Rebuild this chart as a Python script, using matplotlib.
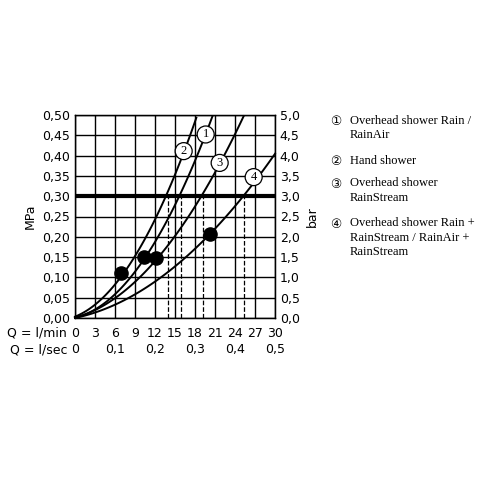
import numpy as np
import matplotlib.pyplot as plt

# read points (l/min, MPa) for each curve
q1 = [0, 10.3, 15.9, 20.6]; p1 = [0, 0.15, 0.30, 0.50]
q2 = [0, 6.9, 14.0, 18.2]; p2 = [0, 0.112, 0.30, 0.50]
q3 = [0, 12.1, 19.2, 25.3]; p3 = [0, 0.147, 0.30, 0.50]
q4 = [0, 20.2, 25.3, 30.0]; p4 = [0, 0.207, 0.30, 0.405]
dots_q = [6.9, 10.3, 12.1, 20.2]
dots_p = [0.112, 0.15, 0.147, 0.207]
cross_q = [14.0, 15.9, 19.2, 25.3]
labels = ["1", "2", "3", "4"]
label_q = [19.6, 16.3, 21.7, 26.8]
label_p = [0.452, 0.411, 0.382, 0.347]
legend = ["Overhead shower Rain /\nRainAir", "Hand shower",
          "Overhead shower\nRainStream",
          "Overhead shower Rain +\nRainStream / RainAir +\nRainStream"]
lmin_ticks = [0, 3, 6, 9, 12, 15, 18, 21, 24, 27, 30]
lsec_ticks = [0, 0.1, 0.2, 0.3, 0.4, 0.5]

fig = plt.figure(figsize=(5, 5), dpi=100)
ax = fig.add_axes([0.15, 0.364, 0.4, 0.406])
ax.set_xlim(0, 30)
ax.set_ylim(0, 0.5)
ax.set_xticks(lmin_ticks)
ax.set_yticks(np.arange(0, 0.501, 0.05))
ax.grid(True, color="black", lw=1)
ax.tick_params(length=0, labelbottom=False, labelsize=9)
ax.set_yticklabels([f"{v:.2f}".replace(".", ",") for v in np.arange(0, 0.501, 0.05)])
ax.set_ylabel("MPa", fontsize=9)
for s in ax.spines.values():
    s.set_linewidth(1)

for q, p in [(q1, p1), (q2, p2), (q3, p3), (q4, p4)]:
    c = np.polyfit(q, p, 2)
    xs = np.linspace(0, q[-1], 100)
    ax.plot(xs, np.polyval(c, xs), color="black", lw=1.4, clip_on=False)

ax.axhline(0.3, color="black", lw=3)
for x in cross_q:
    ax.plot([x, x], [0, 0.3], color="black", ls="--", lw=0.9)
ax.scatter(dots_q, dots_p, s=90, color="black", zorder=5)
for t, x, y in zip(labels, label_q, label_p):
    ax.text(x, y, t, ha="center", va="center", fontsize=9, family="Liberation Serif",
            bbox=dict(boxstyle="circle,pad=0.2", fc="white", ec="black", lw=0.9), zorder=6)

ax2 = ax.twinx()
ax2.set_ylim(0, 5)
ax2.set_yticks(np.arange(0, 5.01, 0.5))
ax2.set_yticklabels([f"{v:.1f}".replace(".", ",") for v in np.arange(0, 5.01, 0.5)])
ax2.tick_params(length=0, labelsize=9)
ax2.set_ylabel("bar", fontsize=9)

for v in lmin_ticks:
    ax.text(v, -0.037, str(v), ha="center", va="center", fontsize=9)
for v in lsec_ticks:
    ax.text(v * 60, -0.078, "0" if v == 0 else f"{v:.1f}".replace(".", ","),
            ha="center", va="center", fontsize=9)
ax.text(-1.2, -0.037, "Q = l/min", ha="right", va="center", fontsize=9)
ax.text(-1.2, -0.078, "Q = l/sec", ha="right", va="center", fontsize=9)

ys = [0.77, 0.69, 0.645, 0.565]
for t, y, txt in zip(labels, ys, legend):
    fig.text(0.66, y, "\u2460\u2461\u2462\u2463"[int(t) - 1], fontsize=9, va="top",
             family=["DejaVu Sans"])
    fig.text(0.70, y, txt, fontsize=9, va="top", family="Liberation Serif", linespacing=1.25)

fig.savefig("out.png", dpi=100)
